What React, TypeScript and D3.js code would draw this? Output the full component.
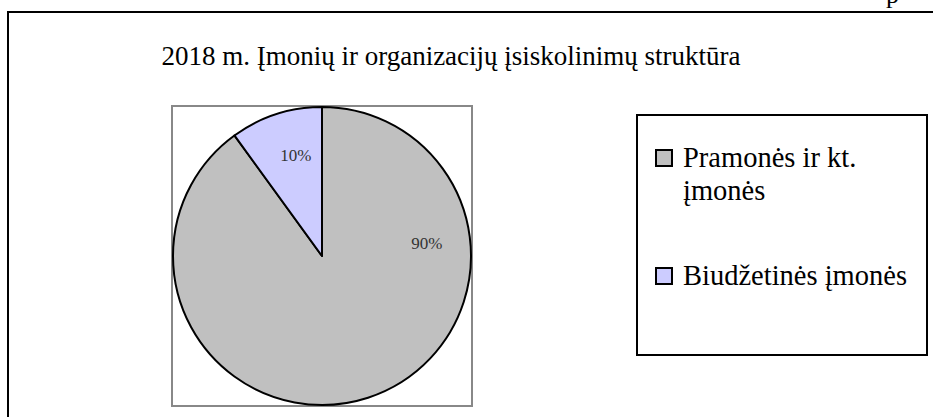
import React, { useEffect, useRef } from 'react';
import * as d3 from 'd3';

const title = '2018 m. Įmonių ir organizacijų įsiskolinimų struktūra';
const categories = ['Pramonės ir kt. įmonės', 'Biudžetinės įmonės'];
const legendLines = [['Pramonės ir kt.', 'įmonės'], ['Biudžetinės įmonės']];
const values = [90, 10];
const colors = ['#C0C0C0', '#CCCCFF'];

const FONT = "'Times New Roman', 'Liberation Serif', 'DejaVu Serif', serif";

const App = () => {
    const ref = useRef<SVGSVGElement | null>(null);

    useEffect(() => {
        if (!ref.current) return;
        const svg = d3.select(ref.current);
        svg.selectAll('*').remove();

        const width = 933;
        const height = 417;

        svg.append('rect')
            .attr('x', 0).attr('y', 0)
            .attr('width', width).attr('height', height)
            .attr('fill', '#fff');

        // cut-off text from the page above
        svg.append('text')
            .attr('x', 886).attr('y', 3)
            .style('font-family', FONT)
            .attr('font-size', 26)
            .text('p');

        // outer chart border (runs past the right and bottom edges)
        svg.append('rect')
            .attr('x', 8).attr('y', 12)
            .attr('width', 940).attr('height', 420)
            .attr('fill', 'none')
            .attr('stroke', '#000')
            .attr('stroke-width', 2);

        svg.append('text')
            .attr('x', 451).attr('y', 65)
            .attr('text-anchor', 'middle')
            .style('font-family', FONT)
            .attr('font-size', 27)
            .text(title);

        // plot area
        const box = { x: 172, y: 106, size: 300 };
        svg.append('rect')
            .attr('x', box.x).attr('y', box.y)
            .attr('width', box.size).attr('height', box.size)
            .attr('fill', 'none')
            .attr('stroke', '#888')
            .attr('stroke-width', 2);

        const cx = box.x + box.size / 2;
        const cy = box.y + box.size / 2;
        const r = 149;

        const pie = d3.pie<number>().sort(null).value(d => d);
        const arcs = pie(values);
        const arc = d3.arc<d3.PieArcDatum<number>>().innerRadius(0).outerRadius(r);

        const g = svg.append('g').attr('transform', `translate(${cx},${cy})`);
        g.selectAll('path.slice')
            .data(arcs)
            .enter()
            .append('path')
            .attr('class', 'slice')
            .attr('d', arc)
            .attr('fill', (d, i) => colors[i])
            .attr('stroke', '#000')
            .attr('stroke-width', 2)
            .attr('stroke-linejoin', 'round');

        const total = d3.sum(values);
        const fmt = (v: number) => `${Math.round((v / total) * 100)}%`;
        // label angles: Excel "best fit" puts the big slice label upper right
        const labelAngle = (d: d3.PieArcDatum<number>, i: number) =>
            i === 0 ? Math.PI * 0.46 : (d.startAngle + d.endAngle) / 2 + 0.06;
        const labelR = [0.71 * r, 0.7 * r];

        g.selectAll('text.lbl')
            .data(arcs)
            .enter()
            .append('text')
            .attr('class', 'lbl')
            .attr('x', (d, i) => Math.sin(labelAngle(d, i)) * labelR[i])
            .attr('y', (d, i) => -Math.cos(labelAngle(d, i)) * labelR[i])
            .attr('dy', '0.35em')
            .attr('text-anchor', 'middle')
            .style('font-family', FONT)
            .attr('font-size', 17)
            .attr('fill', '#333')
            .text(d => fmt(d.data));

        // legend
        svg.append('rect')
            .attr('x', 637).attr('y', 115)
            .attr('width', 290).attr('height', 240)
            .attr('fill', 'none')
            .attr('stroke', '#000')
            .attr('stroke-width', 2);

        const entryY = [167, 285];
        const lg = svg.append('g');
        categories.forEach((c, i) => {
            lg.append('rect')
                .attr('x', 656).attr('y', entryY[i] - 17)
                .attr('width', 16).attr('height', 16)
                .attr('fill', colors[i])
                .attr('stroke', '#000')
                .attr('stroke-width', 2);
            const t = lg.append('text')
                .attr('x', 683).attr('y', entryY[i])
                .style('font-family', FONT)
                .attr('font-size', 28.5);
            legendLines[i].forEach((line, j) => {
                t.append('tspan')
                    .attr('x', 683)
                    .attr('dy', j === 0 ? 0 : 33)
                    .text(line);
            });
        });
    }, []);

    return (
        <svg
            ref={ref}
            width={933}
            height={417}
            style={{ position: 'absolute', left: 0, top: 0 }}
        />
    );
};

export default App;
